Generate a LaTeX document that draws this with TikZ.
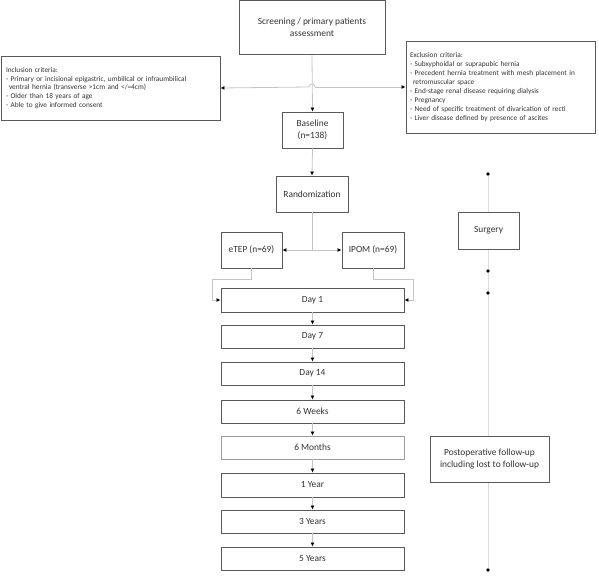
\documentclass[tikz,border=0pt]{standalone}
\usepackage{fontspec}
\setmainfont{Carlito}
\usetikzlibrary{arrows.meta}
\definecolor{boxline}{HTML}{5A5A5A}
\definecolor{conn}{HTML}{C4C4C4}
\definecolor{txt}{HTML}{333333}
\tikzset{
  box/.style={draw=boxline, line width=0.9pt, fill=white, text=txt, inner sep=0pt, align=center, font=\fontsize{9.4}{11.5}\selectfont},
  crit/.style={draw=boxline, line width=0.9pt, fill=white, text=txt, inner xsep=5pt, inner ysep=0pt, align=left, font=\fontsize{7.3}{8.9}\selectfont},
  conn/.style={draw=conn, line width=0.8pt},
  arr/.style={conn, -{Latex[length=4pt,width=4pt,black]}},
  dotm/.style={circle, fill=black, inner sep=0pt, minimum size=3.6pt},
  tline/.style={draw=conn!60, line width=0.6pt}
}
\begin{document}
\begin{tikzpicture}[x=1pt,y=-1pt]
\useasboundingbox (0,0) rectangle (599,581);
% right column timeline
\node[dotm] (d1) at (488,174) {};
\node[dotm] (d2) at (488,271) {};
\node[dotm] (d3) at (488,293) {};
\node[dotm] (d4) at (488,570) {};
\draw[tline] (d1) -- (d2);
\draw[tline] (d2) -- (d3);
\draw[tline] (d3) -- (d4);
\node[box, minimum width=61pt, minimum height=37pt] (surg) at (488.5,230.5) {Surgery};
\node[box, minimum width=119pt, minimum height=46pt] (post) at (489.5,459) {Postoperative follow-up\\including lost to follow-up};

\node[box, minimum width=146pt, minimum height=54pt] (scr) at (312,27.5) {Screening / primary patients\\assessment};
\node[crit, text width=209pt, minimum height=64pt] (inc) at (110.5,88) {Inclusion criteria:\\
- Primary or incisional epigastric, umbilical or infraumbilical\\
\hspace*{3pt}ventral hernia (transverse >1cm and </=4cm)\\
- Older than 18 years of age\\
- Able to give informed consent};
\node[crit, inner xsep=4pt, text width=181pt, minimum height=92pt] (exc) at (500.5,87) {Exclusion criteria:\\
- Subxyphoidal or suprapubic hernia\\
- Precedent hernia treatment with mesh placement in\\
\hspace*{3pt}retromuscular space\\
- End-stage renal disease requiring dialysis\\
- Pregnancy\\
- Need of specific treatment of divarication of recti\\
- Liver disease defined by presence of ascites};
\node[box, minimum width=61pt, minimum height=36pt] (base) at (312.5,130) {Baseline\\(n=138)};
\node[box, minimum width=72pt, minimum height=36pt] (rand) at (312,194) {Randomization};
\node[box, minimum width=61pt, minimum height=36pt] (etep) at (251.5,250) {eTEP (n=69)};
\node[box, minimum width=62pt, minimum height=36pt] (ipom) at (373,250) {IPOM (n=69)};
\node[box, minimum width=183pt, minimum height=24pt] (day1) at (312.5,300) {Day 1};
\node[box, minimum width=183pt, minimum height=23pt] (day7) at (312.5,336.5) {Day 7};
\node[box, minimum width=183pt, minimum height=23pt] (day14) at (312.5,373.5) {Day 14};
\node[box, minimum width=183pt, minimum height=23pt] (w6) at (312.5,411.5) {6 Weeks};
\node[box, draw=boxline!60, minimum width=183pt, minimum height=23pt] (m6) at (312.5,447.5) {6 Months};
\node[box, minimum width=183pt, minimum height=24pt] (y1) at (312.5,485) {1 Year};
\node[box, minimum width=183pt, minimum height=23pt] (y3) at (312.5,521.5) {3 Years};
\node[box, minimum width=183pt, minimum height=23pt] (y5) at (312.5,558.5) {5 Years};

% connectors
\coordinate (jl) at (309,87);
\coordinate (jr) at (315,87);
\draw[arr] (scr.south) -- (base.north);
\draw[conn] (jl) arc[start angle=180, end angle=0, radius=3pt];
\draw[arr] (jl) -- (inc.east);
\draw[arr] (jr) -- (exc.west);
\draw[arr] (base.south) -- (rand.north);
\coordinate (rs) at (312,250);
\draw[conn] (rand.south) -- (rs);
\draw[arr] (rs) -- (etep.east);
\draw[arr] (rs) -- (ipom.west);
\coordinate (eL) at (212,279);
\coordinate (iR) at (413,279);
\draw[arr] (etep.south) |- (eL) |- (day1.west);
\draw[arr] (ipom.south) |- (iR) |- (day1.east);
\draw[arr] (day1) -- (day7);
\draw[arr] (day7) -- (day14);
\draw[arr] (day14) -- (w6);
\draw[arr] (w6) -- (m6);
\draw[arr] (m6) -- (y1);
\draw[arr] (y1) -- (y3);
\draw[arr] (y3) -- (y5);
\end{tikzpicture}
\end{document}
